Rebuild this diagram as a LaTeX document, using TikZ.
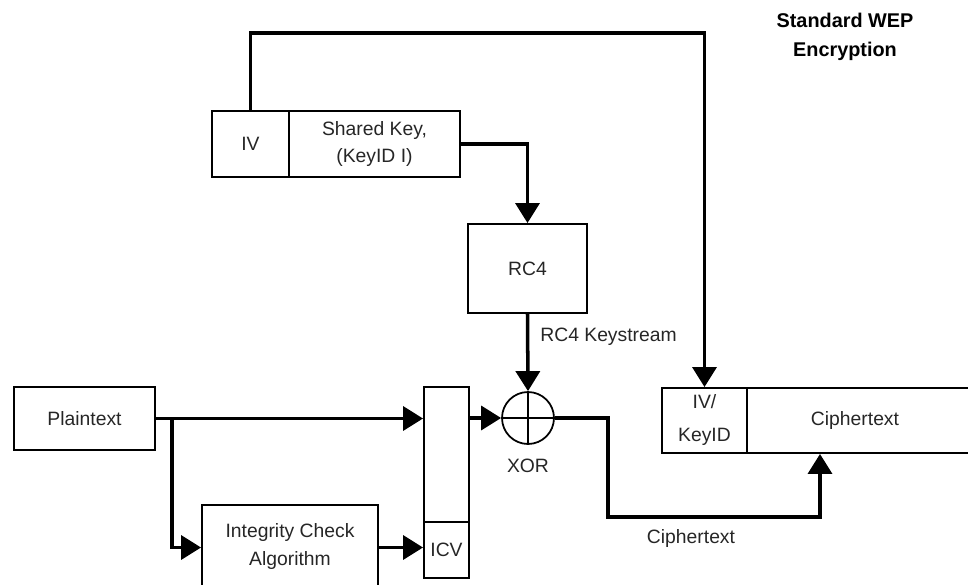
\documentclass[tikz,border=0pt]{standalone}
\usepackage{fontspec}
\setmainfont{Liberation Sans}
\usetikzlibrary{arrows.meta,calc}
\begin{document}
\begin{tikzpicture}[x=0.02cm,y=-0.02cm,
  box/.style={draw=black,line width=1.1pt,inner sep=0pt,font=\fontsize{11}{15.9}\selectfont,text=black!85,align=center},
  conn/.style={line width=2pt,-{Triangle[length=0.4cm,width=0.48cm]}},
  lbl/.style={font=\fontsize{11}{15.9}\selectfont,text=black!85,inner sep=0pt,align=center}]
\useasboundingbox (0,0) rectangle (968,585);
\clip (0,0) rectangle (968,585);
% boxes
\node[box,minimum width=1.54cm,minimum height=1.32cm] (iv) at (250.5,144) {IV};
\node[box,minimum width=3.42cm,minimum height=1.32cm] (sk) at (374.5,144) {Shared Key,\\(KeyID I)};
\node[box,minimum width=2.38cm,minimum height=1.78cm] (rc4) at (527.5,268.5) {RC4};
\node[box,minimum width=0.9cm,minimum height=2.70cm] (pbox) at (446.5,454.5) {};
\node[box,minimum width=0.9cm,minimum height=1.12cm] (icv) at (446.5,550) {ICV};
\node[draw=black,line width=1pt,circle,minimum size=1.04cm,inner sep=0pt] (xor) at (528,418) {};
\draw[line width=1pt] (xor.north) -- (xor.south) (xor.west) -- (xor.east);
\node[box,minimum width=2.82cm,minimum height=1.26cm] (plain) at (84.5,418.5) {Plaintext};
\node[box,minimum width=3.52cm,minimum height=1.70cm] (integ) at (290,547.5) {};
\node[lbl] (integt) at (290,546.5) {Integrity Check\\Algorithm};
\node[box,minimum width=1.70cm,minimum height=1.30cm] (ivk) at (704.5,420.5) {};
\node[lbl,font=\fontsize{11}{18.5}\selectfont] (ivkt) at (704.5,420) {IV/\\KeyID};
\node[box,minimum width=4.86cm,minimum height=1.30cm] (ct) at (868.5,420.5) {};
\node[lbl] (ctt) at (855,420.5) {Ciphertext};
% labels
\node[lbl,font=\fontsize{11.3}{16.4}\selectfont\bfseries,text=black] (title) at (845,37) {Standard WEP\\Encryption};
\node[lbl,anchor=west] (ks) at (540,337) {RC4 Keystream};
\node[lbl] (xorl) at (528,466) {XOR};
\node[lbl] (ctl) at (691,538) {Ciphertext};
% coordinates
\coordinate (topc) at (0,33);
\coordinate (br) at (172,418.5);
\coordinate (turn) at (608,517);
\coordinate (cin) at (820,517);
% connectors
\draw[conn] (iv.north) -- (iv.north |- topc) -| (ivk.north);
\draw[conn] (sk.east) -| (rc4.north);
\draw[conn] (rc4.south) -- (xor.north);
\draw[conn] (plain.east) -- (plain.east -| pbox.west);
\draw[conn] (br) |- (integ.west);
\draw[conn] (integ.east) -- (integ.east -| icv.west);
\draw[conn] (pbox.east |- xor.west) -- (xor.west);
\draw[conn] (xor.east) -| (turn) -- (cin) -- (cin |- ct.south);
\end{tikzpicture}
\end{document}
